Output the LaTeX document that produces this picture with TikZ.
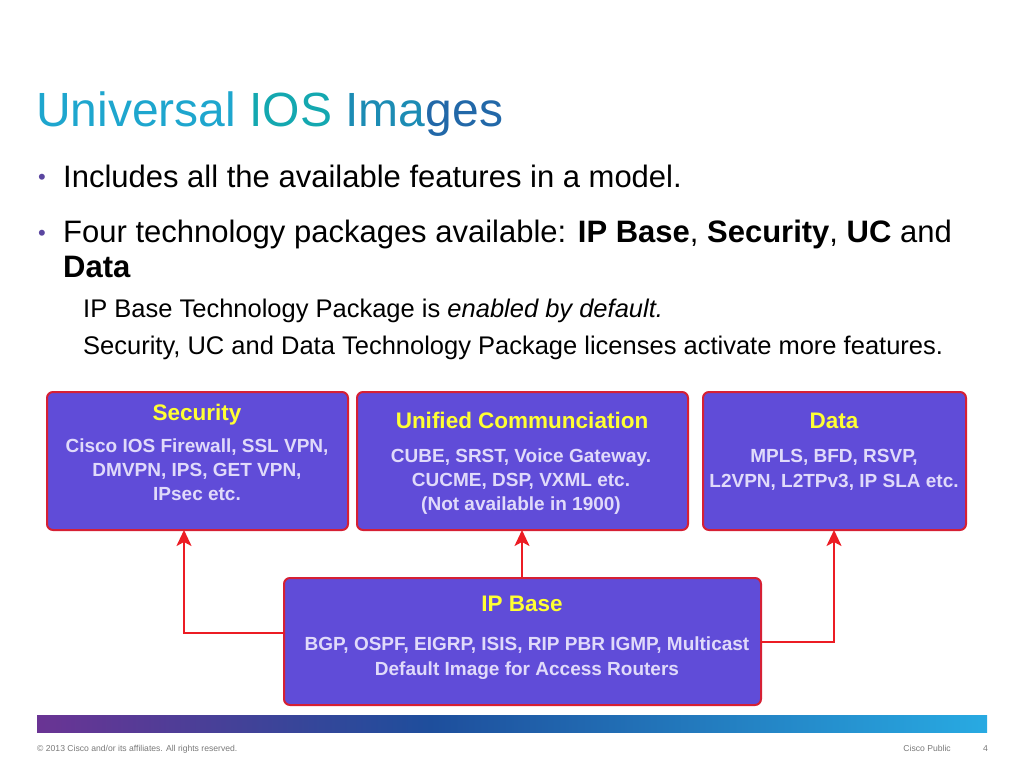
\documentclass[tikz,border=0pt]{standalone}
\usepackage{fontspec}
\setmainfont{Liberation Sans}
\usetikzlibrary{arrows.meta}
\definecolor{boxfill}{RGB}{96,76,216}
\definecolor{boxline}{RGB}{214,32,52}
\definecolor{arrowred}{RGB}{236,28,36}
\definecolor{boxtitle}{RGB}{255,255,51}
\definecolor{boxtext}{RGB}{224,218,250}
\definecolor{tA}{RGB}{30,166,206}
\definecolor{tB}{RGB}{20,168,176}
\definecolor{tC}{RGB}{28,140,180}
\definecolor{tD}{RGB}{34,104,168}
\definecolor{barA}{RGB}{106,52,148}
\definecolor{barB}{RGB}{30,78,156}
\definecolor{barC}{RGB}{40,170,226}
\definecolor{bulletc}{RGB}{90,70,160}
\definecolor{footc}{RGB}{120,120,120}
\tikzset{
  pkgbox/.style={draw=boxline, line width=2pt, fill=boxfill, rounded corners=6pt},
  ttl/.style={anchor=base, text=boxtitle, font=\fontsize{22.5}{26}\selectfont\bfseries, inner sep=0pt},
  btx/.style={anchor=base, text=boxtext, font=\fontsize{19}{22}\selectfont\bfseries, inner sep=0pt},
  bodytext/.style={anchor=base west, inner sep=0pt, font=\fontsize{31}{36}\selectfont},
  subtext/.style={anchor=base west, inner sep=0pt, font=\fontsize{25.5}{30}\selectfont},
  conn/.style={draw=arrowred, line width=2.2pt, -{Stealth[length=16pt,width=15pt,inset=4pt]}},
  foot/.style={anchor=base west, inner sep=0pt, text=footc, font=\fontsize{8.6}{10}\selectfont}
}
\begin{document}
\begin{tikzpicture}[x=1pt,y=-1pt]
\useasboundingbox (0,0) rectangle (1024,768);
% title
\node[anchor=base west, inner sep=0pt, font=\fontsize{48}{54}\selectfont] (title) at (36,126)
  {\textcolor{tA}{Universal} \textcolor{tB}{IOS} \textcolor{tC}{Ima}\textcolor{tD}{ges}};
% bullets
\node[anchor=base west, inner sep=0pt, text=bulletc, font=\fontsize{22}{26}\selectfont] (b1) at (38,184) {\textbullet};
\node[bodytext] (l1) at (63,187) {Includes all the available features in a model.};
\node[anchor=base west, inner sep=0pt, text=bulletc, font=\fontsize{22}{26}\selectfont] (b2) at (38,240) {\textbullet};
\node[bodytext] (l2) at (63,242) {Four technology packages available: \textbf{IP Base}, \textbf{Security}, \textbf{UC} and};
\node[bodytext] (l3) at (63,277) {\textbf{Data}};
\node[subtext] (l4) at (83,317) {IP Base Technology Package is \textit{enabled by default.}};
\node[subtext] (l5) at (83,354) {Security, UC and Data Technology Package licenses activate more features.};
% boxes
\draw[pkgbox] (47,392) rectangle (348,530);
\coordinate (secB) at (184,530);
\node[ttl] (secT) at (197,420) {Security};
\node[btx] (sec1) at (197,452) {Cisco IOS Firewall, SSL VPN,};
\node[btx] (sec2) at (197,476) {DMVPN, IPS, GET VPN,};
\node[btx] (sec3) at (197,500) {IPsec etc.};

\draw[pkgbox] (357,392) rectangle (688,530);
\coordinate (ucB) at (522,530);
\node[ttl] (ucT) at (522,428) {Unified Communciation};
\node[btx] (uc1) at (521,462) {CUBE, SRST, Voice Gateway.};
\node[btx] (uc2) at (521,486) {CUCME, DSP, VXML etc.};
\node[btx] (uc3) at (521,510) {(Not available in 1900)};

\draw[pkgbox] (703,392) rectangle (966,530);
\coordinate (dataB) at (834,530);
\node[ttl] (dataT) at (834,428) {Data};
\node[btx] (data1) at (834,462) {MPLS, BFD, RSVP,};
\node[btx] (data2) at (834,487) {L2VPN, L2TPv3, IP SLA etc.};

\draw[pkgbox] (284,578) rectangle (761,705);
\coordinate (ipL) at (284,633);
\coordinate (ipT) at (522,578);
\coordinate (ipR) at (761,642);
\node[ttl] (ipTt) at (522,611) {IP Base};
\node[btx] (ip1) at (527,650) {BGP, OSPF, EIGRP, ISIS, RIP PBR IGMP, Multicast};
\node[btx] (ip2) at (527,675) {Default Image for Access Routers};
% connectors
\draw[conn] (ipL) -| (secB);
\draw[conn] (ipT) -- (ucB);
\draw[conn] (ipR) -| (dataB);
% bar
\shade[left color=barA, right color=barB] (37,715) rectangle (430,732);
\shade[left color=barB, right color=barC] (429.5,715) rectangle (987,732);
% footer
\node[foot] (f1) at (37,751) {\textcopyright{} 2013 Cisco and/or its affiliates. All rights reserved.};
\node[foot, anchor=base east] (f2) at (951,751) {Cisco Public};
\node[foot, anchor=base east] (f3) at (988,751) {4};
\end{tikzpicture}
\end{document}
